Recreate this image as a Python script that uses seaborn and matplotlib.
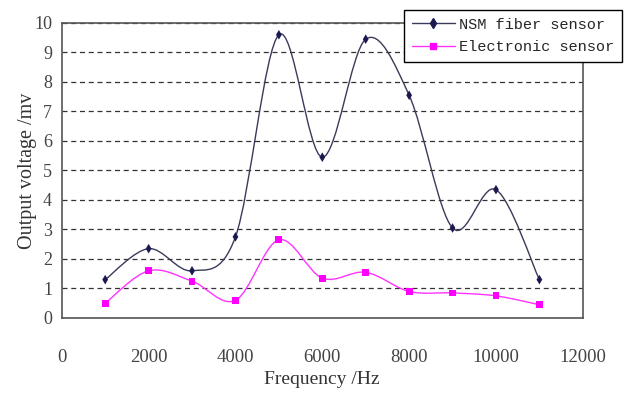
import numpy as np
import pandas as pd
import matplotlib
matplotlib.use('Agg')
import matplotlib.pyplot as plt
import seaborn as sns
from matplotlib.path import Path
from matplotlib.patches import PathPatch
from matplotlib.lines import Line2D

# Data
freq = [1000, 2000, 3000, 4000, 5000, 6000, 7000, 8000, 9000, 10000, 11000]
nsm_fiber = [1.3, 2.35, 1.6, 2.75, 9.6, 5.45, 9.45, 7.55, 3.05, 4.35, 1.3]
electronic = [0.5, 1.6, 1.25, 0.6, 2.65, 1.35, 1.55, 0.9, 0.85, 0.75, 0.45]
series_names = ['NSM fiber sensor', 'Electronic sensor']

df = pd.DataFrame({'Frequency': freq * 2,
                   'Voltage': nsm_fiber + electronic,
                   'Sensor': [series_names[0]] * len(freq) + [series_names[1]] * len(freq)})

sns.set_style('white')
plt.rcParams['font.family'] = ['Liberation Serif', 'DejaVu Serif']

fig = plt.figure(figsize=(6.24, 3.96), dpi=100)
ax = fig.add_axes([0.099, 0.197, 0.835, 0.745])


def smooth_path(xs, ys):
    # Excel-style smoothed line as cubic Bezier segments through the points
    pts = np.column_stack([xs, ys]).astype(float)
    verts = [pts[0]]
    codes = [Path.MOVETO]
    n = len(pts)
    for i in range(n - 1):
        p0 = pts[i - 1] if i > 0 else pts[i]
        p1 = pts[i]
        p2 = pts[i + 1]
        p3 = pts[i + 2] if i + 2 < n else pts[i + 1]
        c1 = p1 + (p2 - p0) / 6.0
        c2 = p2 - (p3 - p1) / 6.0
        verts += [c1, c2, p2]
        codes += [Path.CURVE4] * 3
    return Path(verts, codes)


colors = {series_names[0]: '#1a1a50', series_names[1]: '#ff00ff'}
line_colors = {series_names[0]: '#3a3a5a', series_names[1]: '#ff33ff'}
markers = {series_names[0]: 'd', series_names[1]: 's'}

for name in series_names:
    sub = df[df['Sensor'] == name]
    ax.add_patch(PathPatch(smooth_path(sub['Frequency'], sub['Voltage']),
                           facecolor='none', edgecolor=line_colors[name], lw=1.0, zorder=3))

sns.scatterplot(data=df, x='Frequency', y='Voltage', hue='Sensor', style='Sensor',
                palette=colors, markers=markers, s=24, edgecolor='none',
                legend=False, ax=ax, zorder=4)

ax.set_xlim(0, 12000)
ax.set_ylim(0, 10)
ax.set_xticks(range(0, 12001, 2000))
ax.set_yticks(range(0, 11))
ax.yaxis.grid(True, linestyle=(0, (4, 3)), color='#333333', lw=0.9)
ax.xaxis.grid(False)
ax.tick_params(axis='both', labelsize=13.5, colors='#555555', labelcolor='#444444',
               direction='in', length=3, width=0.8)
ax.tick_params(axis='x', pad=22)
ax.tick_params(axis='y', pad=7, labelsize=13)
for sp in ax.spines.values():
    sp.set_color('#555555')
    sp.set_linewidth(1.2)

ax.set_xlabel('Frequency /Hz', fontsize=14, color='#333333', labelpad=4)
ax.set_ylabel('Output voltage /mv', fontsize=14.5, color='#333333', labelpad=-2)

handles = [Line2D([], [], color=line_colors[n], marker=markers[n], markersize=5,
                  markerfacecolor=colors[n], markeredgecolor=colors[n], lw=1.0)
           for n in series_names]
leg = ax.legend(handles, series_names, loc='upper right', bbox_to_anchor=(1.075, 1.044),
                frameon=True, fancybox=False, edgecolor='black', framealpha=1,
                prop={'family': 'Liberation Mono', 'size': 11},
                handlelength=2.8, borderpad=0.5, labelspacing=0.55, handletextpad=0.3,
                borderaxespad=0)
leg.get_frame().set_linewidth(1.0)
leg.set_zorder(10)

fig.savefig('out.png', dpi=100)
